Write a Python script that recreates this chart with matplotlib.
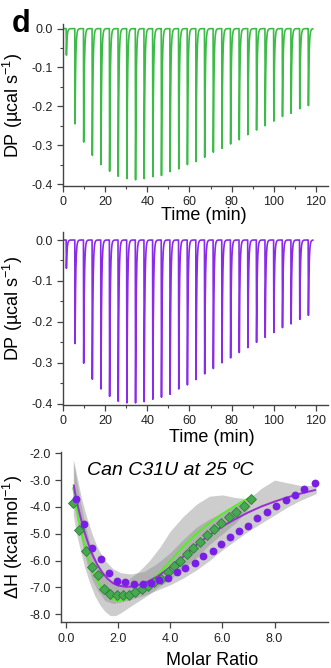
import numpy as np
import matplotlib
matplotlib.use('Agg')
import matplotlib.pyplot as plt
from matplotlib.ticker import MultipleLocator, FixedLocator, FormatStrFormatter

plt.rcParams['font.family'] = ['Liberation Sans', 'DejaVu Sans']
plt.rcParams['mathtext.default'] = 'regular'

# injection times (min) and peak depths (ucal/s)
t_iny = [1.5, 5.6, 9.7, 13.8, 17.9, 22.0, 26.1, 30.2, 34.3, 38.4, 42.5, 46.6, 50.7, 54.8,
         58.9, 63.0, 67.1, 71.2, 75.3, 79.4, 83.5, 87.6, 91.7, 95.8, 99.9, 104.0, 108.1,
         112.2, 116.3]
dp_verde = [-0.068, -0.245, -0.292, -0.326, -0.350, -0.367, -0.380, -0.386, -0.389, -0.386,
            -0.381, -0.378, -0.368, -0.361, -0.350, -0.342, -0.331, -0.318, -0.308, -0.297,
            -0.286, -0.273, -0.261, -0.250, -0.238, -0.226, -0.218, -0.206, -0.198]
dp_morado = [-0.069, -0.253, -0.301, -0.340, -0.364, -0.382, -0.394, -0.398, -0.398, -0.395,
             -0.389, -0.384, -0.377, -0.364, -0.354, -0.341, -0.327, -0.314, -0.300, -0.288,
             -0.275, -0.263, -0.250, -0.238, -0.226, -0.214, -0.205, -0.194, -0.184]

# integrated heats
x_circ = [0.38, 0.70, 1.00, 1.33, 1.64, 1.97, 2.28, 2.62, 2.94, 3.26, 3.58, 3.91, 4.25, 4.58,
          4.94, 5.26, 5.63, 5.95, 6.29, 6.64, 6.99, 7.34, 7.70, 8.04, 8.43, 8.79, 9.14, 9.54]
y_circ = [-3.70, -4.65, -5.52, -5.94, -6.47, -6.77, -6.81, -6.87, -6.89, -6.82, -6.72, -6.65,
          -6.43, -6.27, -6.10, -5.81, -5.66, -5.39, -5.13, -4.88, -4.70, -4.40, -4.17, -3.96,
          -3.74, -3.55, -3.34, -3.12]
x_diam = [0.28, 0.51, 0.77, 0.98, 1.21, 1.47, 1.69, 1.94, 2.19, 2.43, 2.66, 2.90, 3.15, 3.38,
          3.63, 3.90, 4.14, 4.39, 4.65, 4.88, 5.14, 5.42, 5.68, 5.95, 6.24, 6.52, 6.82, 7.11]
y_diam = [-3.84, -4.86, -5.66, -6.22, -6.53, -7.06, -7.24, -7.29, -7.29, -7.27, -7.16, -7.06,
          -6.94, -6.81, -6.70, -6.43, -6.20, -6.00, -5.75, -5.54, -5.29, -5.04, -4.83, -4.58,
          -4.39, -4.20, -3.95, -3.71]

# fitted curves
x_ajuste_m = [0.3, 0.4, 0.55, 0.7, 0.85, 1.0, 1.2, 1.4, 1.6, 1.8, 2.0, 2.3, 2.6, 3.0, 3.5,
              4.0, 4.5, 5.0, 5.5, 6.0, 6.5, 7.0, 7.5, 8.0, 8.5, 9.0, 9.55]
y_ajuste_m = [-3.2, -3.75, -4.35, -4.9, -5.35, -5.75, -6.15, -6.45, -6.68, -6.84, -6.93, -6.98,
              -6.96, -6.85, -6.6, -6.25, -5.85, -5.42, -5.05, -4.72, -4.45, -4.2, -3.98, -3.8,
              -3.64, -3.5, -3.37]
x_ajuste_v = [0.28, 0.4, 0.55, 0.7, 0.85, 1.0, 1.2, 1.4, 1.6, 1.8, 2.0, 2.2, 2.5, 2.8, 3.2,
              3.6, 4.0, 4.5, 5.0, 5.5, 6.0, 6.5, 7.06]
y_ajuste_v = [-3.3, -4.05, -4.8, -5.4, -5.9, -6.3, -6.75, -7.1, -7.32, -7.45, -7.49, -7.46,
              -7.32, -7.1, -6.82, -6.45, -6.02, -5.47, -5.0, -4.6, -4.25, -3.95, -3.64]

# confidence bands
x_banda_m = [0.3, 0.45, 0.6, 0.8, 1.0, 1.2, 1.5, 1.8, 2.1, 2.5, 3.0, 3.5, 4.0, 4.5, 5.0, 5.5,
             6.0, 6.5, 7.0, 7.5, 8.0, 8.5, 9.0, 9.6]
sup_banda_m = [-2.3, -3.0, -3.7, -4.4, -5.0, -5.5, -6.0, -6.3, -6.45, -6.5, -6.4, -6.1, -5.7,
               -5.2, -4.75, -4.45, -4.2, -3.95, -3.7, -3.3, -3.0, -3.1, -3.2, -3.2]
inf_banda_m = [-3.9, -4.6, -5.3, -6.1, -6.7, -7.1, -7.5, -7.6, -7.55, -7.45, -7.3, -7.1, -6.9,
               -6.65, -6.35, -6.0, -5.6, -5.25, -4.9, -4.6, -4.3, -4.0, -3.75, -3.5]
x_banda_v = [0.28, 0.4, 0.55, 0.7, 0.9, 1.1, 1.3, 1.5, 1.7, 1.9, 2.1, 2.4, 2.8, 3.2, 3.6, 4.0,
             4.5, 5.0, 5.5, 6.0, 6.5, 7.06]
sup_banda_v = [-2.2, -3.0, -3.8, -4.5, -5.3, -5.9, -6.3, -6.6, -6.75, -6.8, -6.8, -6.7, -6.4,
               -6.0, -5.5, -4.9, -4.35, -3.9, -3.6, -3.55, -3.65, -3.7]
inf_banda_v = [-4.3, -5.0, -5.6, -6.2, -6.8, -7.3, -7.65, -7.9, -8.05, -8.05, -7.95, -7.75,
               -7.5, -7.25, -6.95, -6.7, -6.3, -5.9, -5.4, -5.0, -4.6, -4.0]


def termograma(tiempos, picos, t):
    # each injection: quick drop then exponential return to baseline
    y = np.zeros_like(t)
    for t0, a in zip(tiempos, picos):
        dt = t - t0
        bajada = (dt >= 0) & (dt < 0.12)
        y[bajada] += a * dt[bajada] / 0.12
        vuelta = dt >= 0.12
        y[vuelta] += a * np.exp(-(dt[vuelta] - 0.12) / 0.32)
    return y


def estilo_ejes(ax):
    for lado in ['top', 'right']:
        ax.spines[lado].set_visible(False)
    for lado in ['left', 'bottom']:
        ax.spines[lado].set_color('#444444')
        ax.spines[lado].set_linewidth(1.0)
    ax.tick_params(which='major', direction='out', length=4, width=0.9, color='#444444',
                   labelsize=9, labelcolor='#222222')
    ax.tick_params(which='minor', direction='out', length=2.5, width=0.8, color='#444444')


fig = plt.figure(figsize=(3.31, 6.68), dpi=100)

t = np.arange(0.5, 118.5, 0.01)
paneles = [
    ([0.1903, 0.7216, 0.8006, 0.2425], dp_verde, '#3DBB48', (-0.405, 0.012), 0.532, -0.13, 0.5),
    ([0.1903, 0.3937, 0.8006, 0.2590], dp_morado, '#8A2BE8', (-0.4032, 0.0196), 0.562, -0.139, 0.56),
]
for pos, picos, color, ylim, xl, yl, ylab in paneles:
    ax = fig.add_axes(pos)
    ax.plot(t, termograma(t_iny, picos, t), color=color, lw=1.2)
    ax.set_xlim(0, 125.7)
    ax.set_ylim(*ylim)
    ax.xaxis.set_major_locator(MultipleLocator(20))
    ax.xaxis.set_minor_locator(MultipleLocator(10))
    ax.yaxis.set_major_locator(MultipleLocator(0.1))
    ax.yaxis.set_minor_locator(MultipleLocator(0.05))
    ax.yaxis.set_major_formatter(FormatStrFormatter('%.1f'))
    estilo_ejes(ax)
    ax.set_xlabel('Time (min)', fontsize=13)
    ax.set_ylabel('DP (µcal s$^{-1}$)', fontsize=13)
    ax.xaxis.set_label_coords(xl, yl)
    ax.yaxis.set_label_coords(-0.143, ylab)

ax3 = fig.add_axes([0.1852, 0.0684, 0.8057, 0.2554])
ax3.fill_between(x_banda_m, inf_banda_m, sup_banda_m, color='#8a8a8a', alpha=0.42, lw=0)
ax3.fill_between(x_banda_v, inf_banda_v, sup_banda_v, color='#8a8a8a', alpha=0.42, lw=0)
ax3.plot(x_ajuste_v, y_ajuste_v, color='#55EE22', lw=1.4)
ax3.plot(x_ajuste_m, y_ajuste_m, color='#9A2FD6', lw=1.4)
ax3.plot(x_diam, y_diam, 'D', ms=4.6, mfc='#45A94F', mec='#2E7D37', mew=0.6)
ax3.plot(x_circ, y_circ, 'o', ms=4.6, mfc='#7A1EE6', mec='#7A1EE6')
ax3.set_xlim(-0.18, 10.05)
ax3.set_ylim(-8.3, -1.94)
ax3.xaxis.set_major_locator(FixedLocator([0, 2, 4, 6, 8]))
ax3.yaxis.set_major_locator(MultipleLocator(1))
ax3.xaxis.set_major_formatter(FormatStrFormatter('%.1f'))
ax3.yaxis.set_major_formatter(FormatStrFormatter('%.1f'))
estilo_ejes(ax3)
ax3.set_xlabel('Molar Ratio', fontsize=13)
ax3.set_ylabel('ΔH (kcal mol$^{-1}$)', fontsize=13)
ax3.xaxis.set_label_coords(0.565, -0.172)
ax3.yaxis.set_label_coords(-0.136, 0.5)
ax3.text(0.8, -2.65, 'Can C31U at 25 ºC', fontsize=14, style='italic', va='center')

fig.text(12 / 331, 1 - 32 / 668, 'd', fontsize=22, fontweight='bold', va='baseline')

fig.savefig('out.png', dpi=100)
